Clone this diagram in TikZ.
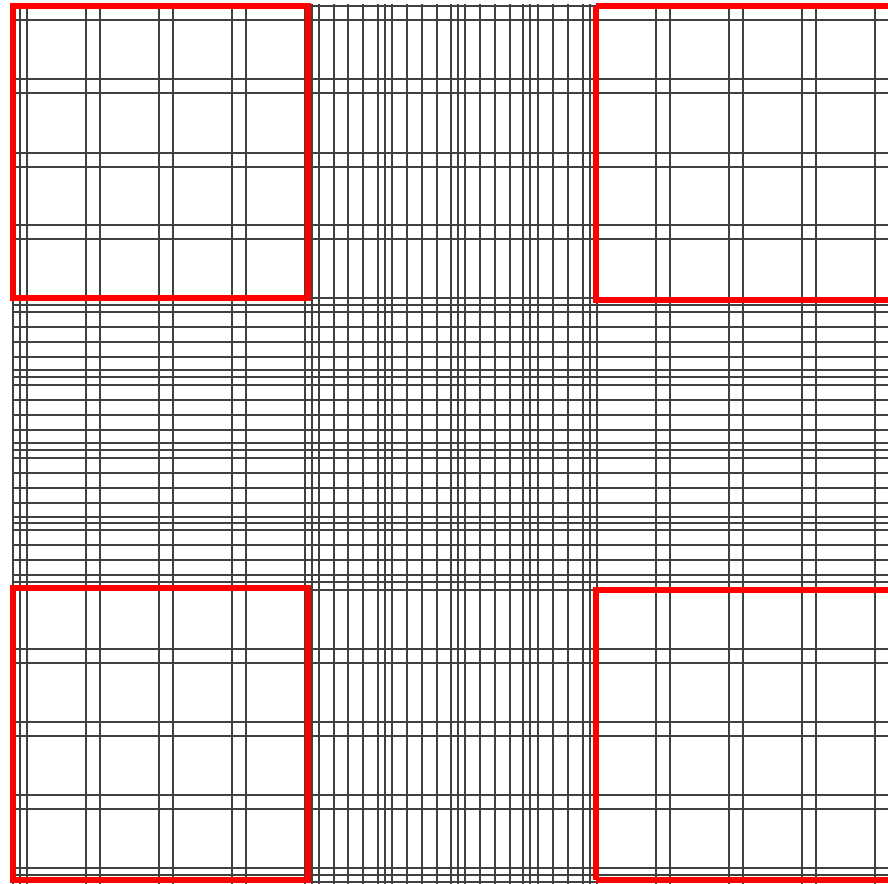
\documentclass[tikz,border=0pt]{standalone}
\usepackage{xcolor}
\usepackage{tikz}

\begin{document}
\begin{tikzpicture}[
    x=1pt, y=-1pt,
    rule/.style={line width=2pt, draw=black!75},
    redbox/.style={line width=6pt, draw=red}
  ]
  \useasboundingbox (0,0) rectangle (888,883);
  \fill[white] (0,0) rectangle (888,883);
  \clip (0,0) rectangle (888,883);

  % vertical rulings
  \foreach \x in {13,20,27,86,100,159,173,232,246,
                  305,312,319,334,348,363,378,385,392,407,422,437,
                  451,458,465,480,495,510,523,530,538,553,568,583,590,597,
                  656,670,729,743,802,816,875}
    \draw[rule] (\x,4) -- (\x,890);

  % horizontal rulings
  \foreach \y in {6,20,79,93,153,167,225,239,
                  298,305,312,327,342,357,370,377,385,400,415,430,
                  443,450,458,473,488,503,517,523,530,545,560,575,582,590,
                  649,663,722,736,795,809,868,875,882}
    \draw[rule] (12,\y) -- (895,\y);

  % the four corner squares
  \draw[redbox] (13,6) rectangle (308,298);
  \draw[redbox] (596,6) -- (596,300) -- (900,300);
  \draw[redbox] (596,6) -- (900,6);
  \draw[redbox] (13,880) rectangle (308,588);
  \draw[redbox] (596,880) -- (596,590) -- (900,590);
  \draw[redbox] (596,880) -- (900,880);
\end{tikzpicture}
\end{document}
